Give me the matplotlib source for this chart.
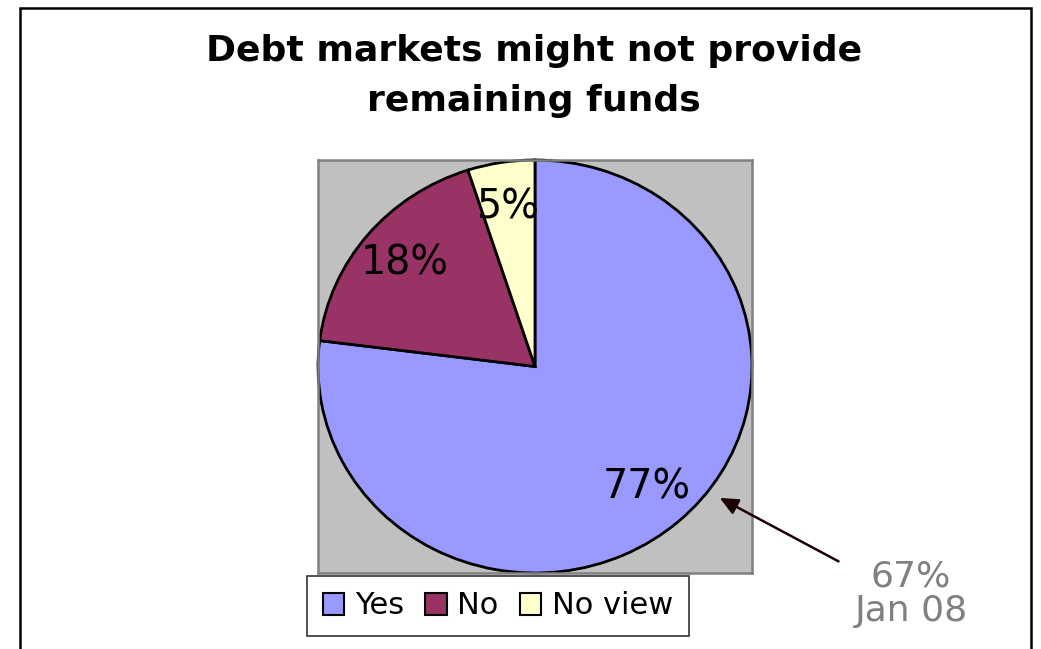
import matplotlib.pyplot as plt
from matplotlib.patches import Rectangle

plt.rcParams["font.family"] = "DejaVu Sans"

# survey answers
respuestas = ["Yes", "No", "No view"]
porcentajes = [77, 18, 5]
colores = ["#9999FF", "#993366", "#FFFFCC"]
titulo = "Debt markets might not provide\nremaining funds"
nota_previa = "67%\nJan 08"

fig = plt.figure(figsize=(10.41, 6.49), dpi=100)
W, H = 1041, 649

# outer chart border (open at the bottom edge)
fig.patches.append(Rectangle((20 / W, -0.05), 1011 / W, 1.05 - 8 / H,
                             transform=fig.transFigure, fill=False,
                             edgecolor="black", linewidth=1.8))

fig.text(534 / W, 1 - 34 / H, titulo, ha="center", va="top",
         fontsize=26, fontweight="bold", linespacing=1.58)

# plot area: gray box with the pie filling it
ax = fig.add_axes([318 / W, 1 - 573 / H, 434 / W, 413 / H])
cunas, _, etiquetas = ax.pie(
    porcentajes, colors=colores, startangle=90, counterclock=False,
    autopct="%1.0f%%", pctdistance=0.78, radius=1.0,
    wedgeprops=dict(edgecolor="black", linewidth=2.0),
    textprops=dict(fontsize=28.5, color="black"),
)
ax.set_aspect("auto")
ax.set_xlim(-1, 1)
ax.set_ylim(-1, 1)
ax.set_frame_on(True)
ax.set_facecolor("#C0C0C0")
for s in ax.spines.values():
    s.set_color("#808080")
    s.set_linewidth(1.8)
ax.set_xticks([])
ax.set_yticks([])

# arrow pointing at the Yes slice with the earlier reading
ax.annotate("", xy=(0.84, -0.63), xytext=(1.41, -0.95),
            arrowprops=dict(arrowstyle="-|>,head_length=1.1,head_width=0.5",
                            color="#1a0000", lw=1.8),
            annotation_clip=False)
fig.text(911 / W, 1 - 594 / H, nota_previa, ha="center", va="center",
         fontsize=26, color="#808080", linespacing=1.02)

leg = fig.legend(cunas, respuestas, loc="center",
                 bbox_to_anchor=(498 / W, 1 - 606 / H), ncol=3,
                 fontsize=22, frameon=True, fancybox=False,
                 edgecolor="black", handlelength=0.7, handleheight=0.7,
                 handletextpad=0.35, columnspacing=0.7, borderpad=0.5,
                 borderaxespad=0)
leg.get_frame().set_linewidth(1.2)
for h in leg.legend_handles:
    h.set_linewidth(1.5)

fig.savefig("out.png", dpi=100)
